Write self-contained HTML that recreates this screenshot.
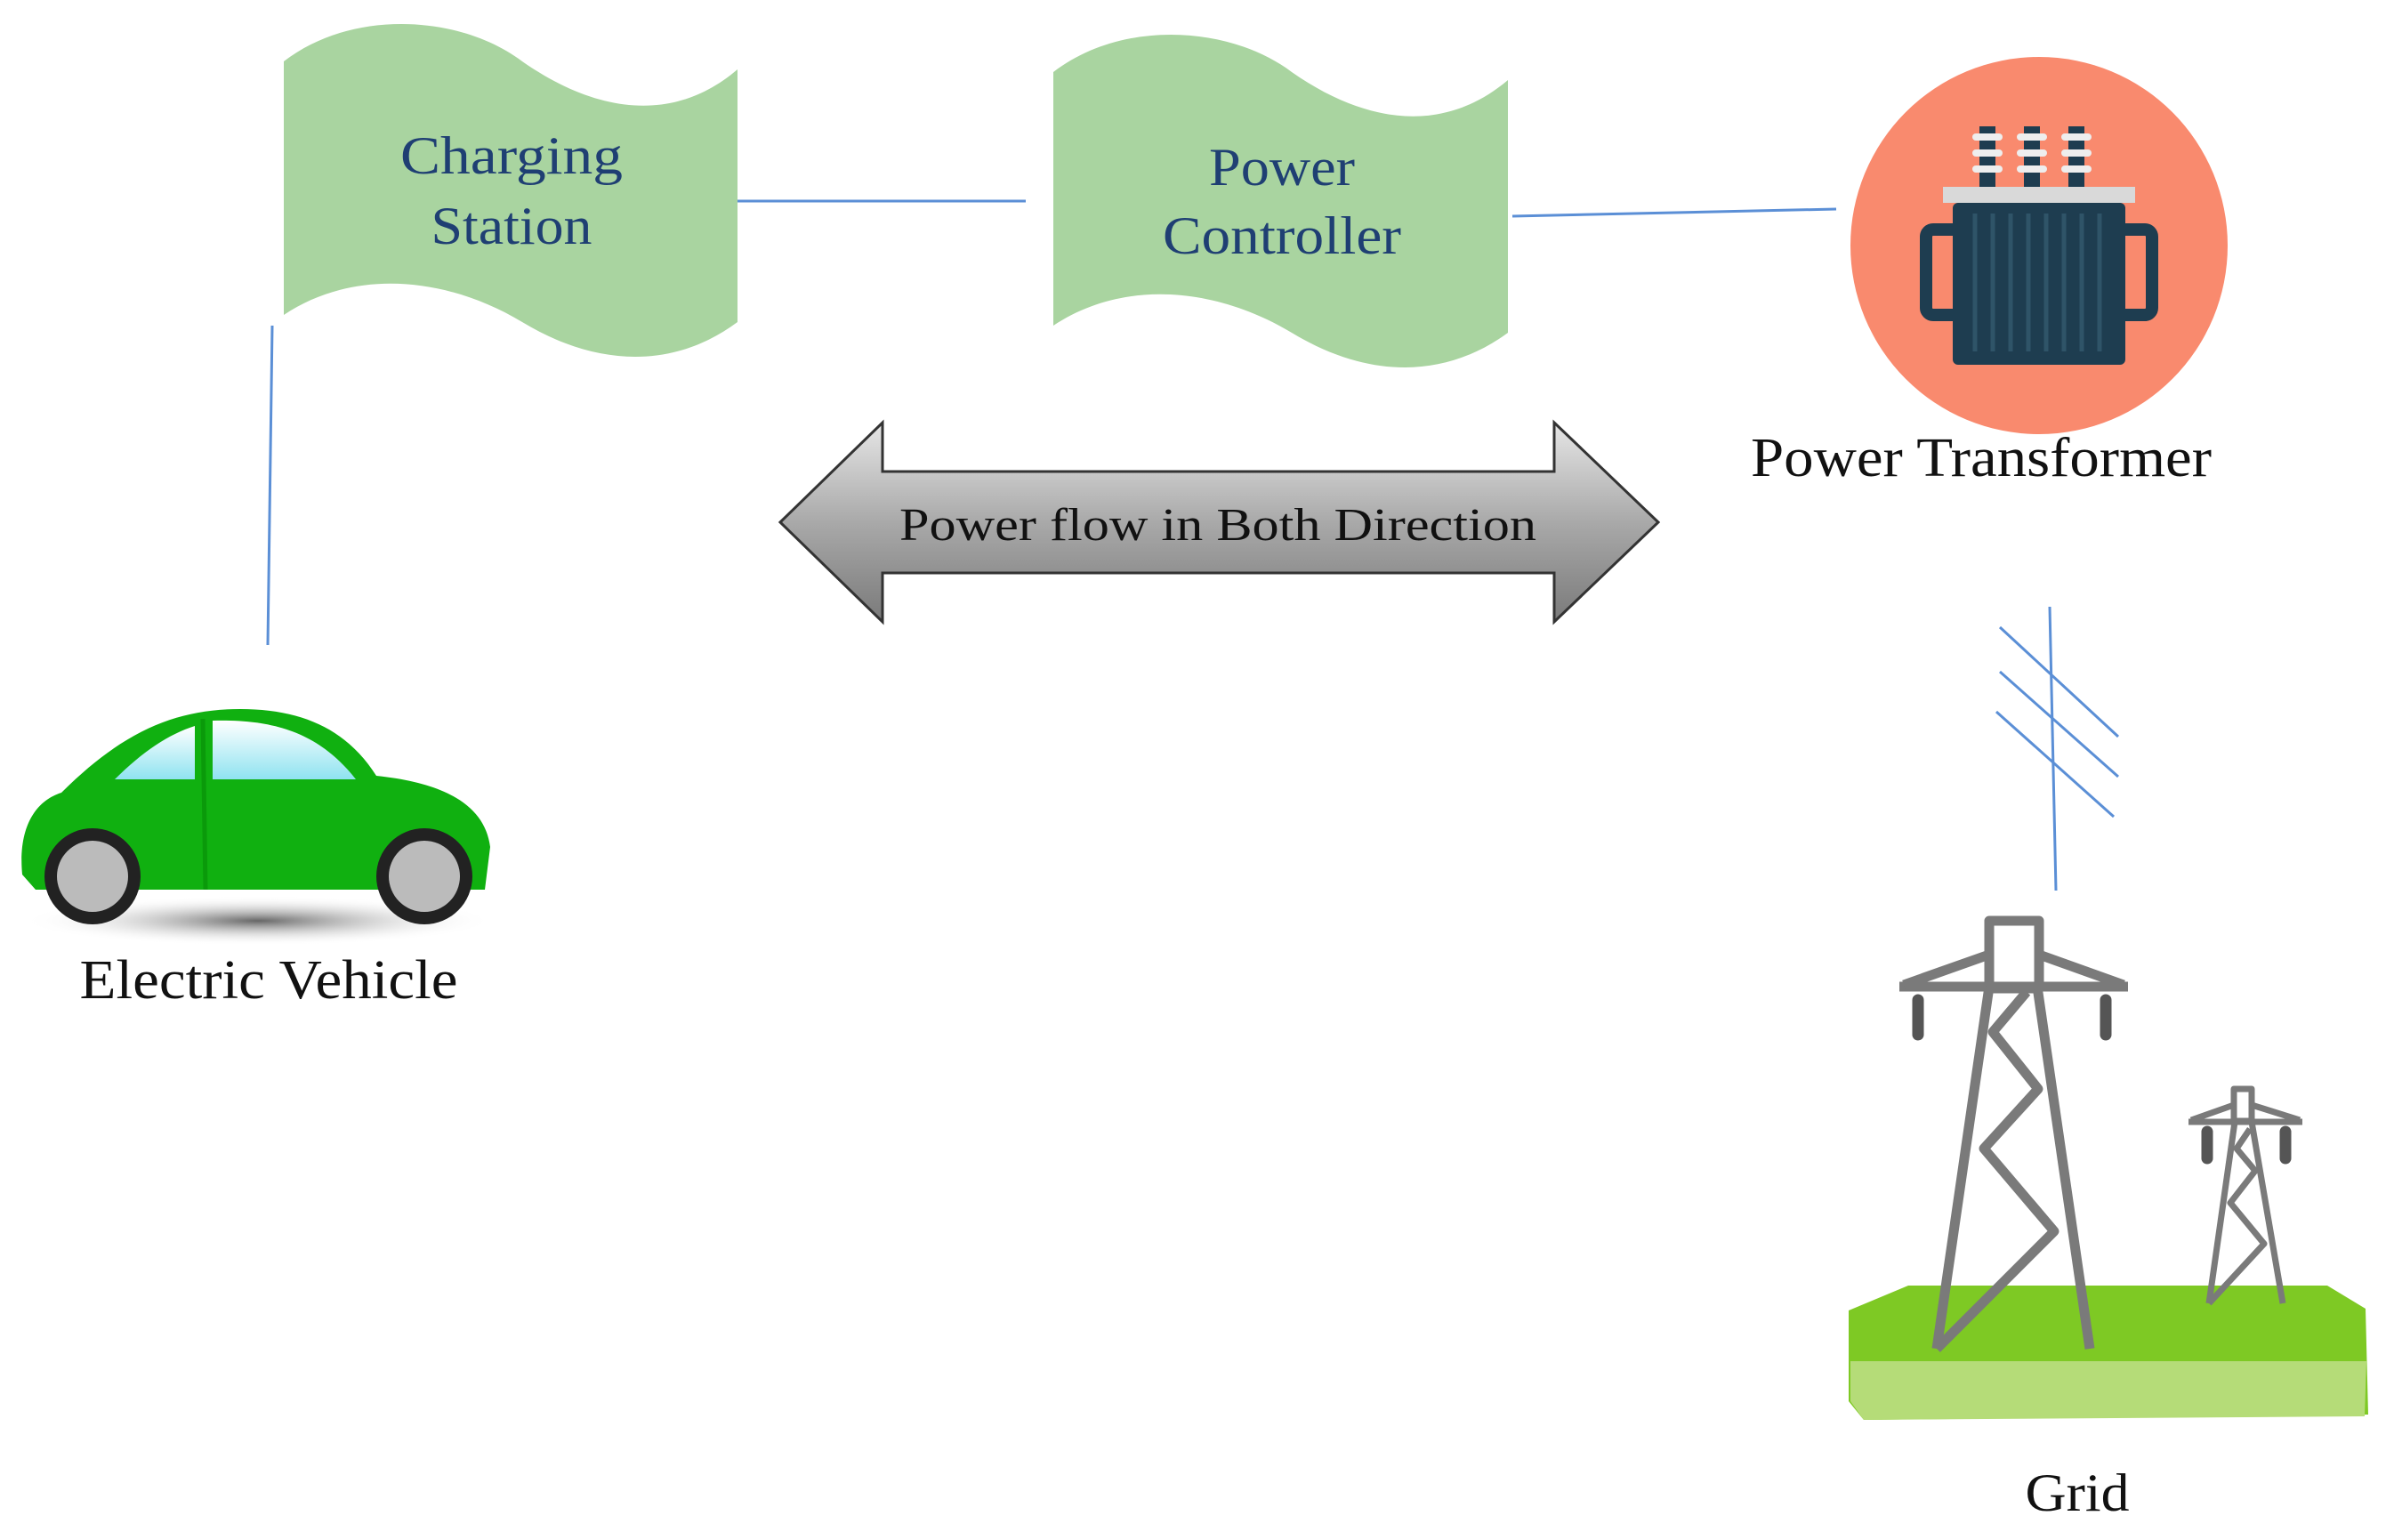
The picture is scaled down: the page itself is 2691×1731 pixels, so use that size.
<!DOCTYPE html>
<html><head><meta charset="utf-8"><style>
html,body{margin:0;padding:0;background:#fff}
svg{display:block}
text{font-family:"Liberation Serif",serif}
</style></head><body>
<svg width="2691" height="1731" viewBox="0 0 2691 1731" xmlns="http://www.w3.org/2000/svg">
<defs>
<linearGradient id="ag" x1="0" y1="0" x2="0" y2="1">
<stop offset="0" stop-color="#e6e6e6"/><stop offset="0.5" stop-color="#a9a9a9"/><stop offset="1" stop-color="#7a7a7a"/>
</linearGradient>
<linearGradient id="win" x1="0" y1="0" x2="0" y2="1">
<stop offset="0" stop-color="#ffffff"/><stop offset="1" stop-color="#8fe3f0"/>
</linearGradient>
<radialGradient id="sh" cx="0.5" cy="0.5" r="0.5">
<stop offset="0" stop-color="#666"/><stop offset="1" stop-color="#fff" stop-opacity="0"/>
</radialGradient>
</defs>

<!-- connectors -->
<line x1="829" y1="226" x2="1153" y2="226" stroke="#5b8fd6" stroke-width="3"/>
<line x1="1700" y1="243" x2="2064" y2="235" stroke="#5b8fd6" stroke-width="3"/>
<line x1="306" y1="366" x2="301" y2="725" stroke="#5b8fd6" stroke-width="3"/>
<line x1="2304" y1="682" x2="2311" y2="1001" stroke="#5b8fd6" stroke-width="3"/>
<line x1="2248" y1="705" x2="2381" y2="828" stroke="#5b8fd6" stroke-width="3"/>
<line x1="2248" y1="755" x2="2381" y2="873" stroke="#5b8fd6" stroke-width="3"/>
<line x1="2244" y1="800" x2="2376" y2="918" stroke="#5b8fd6" stroke-width="3"/>

<!-- flags -->
<path d="M319,69 C397,9 518,17 587,69 C673,129 759,138 829,78 L829,362 C759,414 673,414 587,362 C500,310 397,302 319,354 Z" fill="#a9d4a0"/>
<text x="575" y="195" font-size="60" fill="#1f3f73" text-anchor="middle" textLength="250" lengthAdjust="spacingAndGlyphs">Charging</text>
<text x="575" y="274" font-size="60" fill="#1f3f73" text-anchor="middle" textLength="181" lengthAdjust="spacingAndGlyphs">Station</text>
<path d="M1184,81 C1262,21 1383,29 1452,81 C1538,141 1624,150 1695,90 L1695,374 C1624,426 1538,426 1452,374 C1365,322 1262,314 1184,366 Z" fill="#a9d4a0"/>
<text x="1441" y="208" font-size="60" fill="#1f3f73" text-anchor="middle" textLength="164" lengthAdjust="spacingAndGlyphs">Power</text>
<text x="1441" y="285" font-size="60" fill="#1f3f73" text-anchor="middle" textLength="268" lengthAdjust="spacingAndGlyphs">Controller</text>

<!-- double arrow -->
<path d="M877,587 L992,475 L992,530 L1747,530 L1747,475 L1864,587 L1747,699 L1747,644 L992,644 L992,699 Z" fill="url(#ag)" stroke="#333" stroke-width="3"/>
<text x="1369" y="607" font-size="52" fill="#111" text-anchor="middle" textLength="716" lengthAdjust="spacingAndGlyphs">Power flow in Both Direction</text>

<!-- transformer -->
<circle cx="2292" cy="276" r="212" fill="#f98a6e"/>
<rect x="2184" y="210" width="216" height="18" fill="#d9d9d9"/>
<rect x="2195" y="228" width="194" height="182" rx="6" fill="#1e3d50"/>
<g stroke="#2f5468" stroke-width="5">
<line x1="2220" y1="240" x2="2220" y2="395"/><line x1="2240" y1="240" x2="2240" y2="395"/><line x1="2260" y1="240" x2="2260" y2="395"/><line x1="2280" y1="240" x2="2280" y2="395"/><line x1="2300" y1="240" x2="2300" y2="395"/><line x1="2320" y1="240" x2="2320" y2="395"/><line x1="2340" y1="240" x2="2340" y2="395"/><line x1="2360" y1="240" x2="2360" y2="395"/>
</g>
<path d="M2195,258 h-22 a8,8 0 0 0 -8,8 v80 a8,8 0 0 0 8,8 h22" fill="none" stroke="#1e3d50" stroke-width="14"/>
<path d="M2389,258 h22 a8,8 0 0 1 8,8 v80 a8,8 0 0 1 -8,8 h-22" fill="none" stroke="#1e3d50" stroke-width="14"/>
<g>
<rect x="2225" y="142" width="18" height="68" fill="#1e3d50"/><rect x="2275" y="142" width="18" height="68" fill="#1e3d50"/><rect x="2325" y="142" width="18" height="68" fill="#1e3d50"/>
<g fill="#eee">
<rect x="2217" y="150" width="34" height="8" rx="4"/><rect x="2217" y="168" width="34" height="8" rx="4"/><rect x="2217" y="186" width="34" height="8" rx="4"/>
<rect x="2267" y="150" width="34" height="8" rx="4"/><rect x="2267" y="168" width="34" height="8" rx="4"/><rect x="2267" y="186" width="34" height="8" rx="4"/>
<rect x="2317" y="150" width="34" height="8" rx="4"/><rect x="2317" y="168" width="34" height="8" rx="4"/><rect x="2317" y="186" width="34" height="8" rx="4"/>
</g></g>
<text x="2227" y="535" font-size="62" fill="#111" text-anchor="middle" textLength="518" lengthAdjust="spacingAndGlyphs">Power Transformer</text>

<!-- car -->
<ellipse cx="290" cy="1035" rx="265" ry="28" fill="url(#sh)"/>
<path d="M25,983 C20,930 40,900 69,891 C140,820 200,797 270,797 C340,797 390,820 423,872 C500,880 545,905 551,952 L545,1000 L40,1000 Z" fill="#10b010"/>
<path d="M129,876 C160,845 190,825 219,816 L219,876 Z" fill="url(#win)"/>
<path d="M239,810 C310,808 360,825 400,876 L239,876 Z" fill="url(#win)"/>
<line x1="228" y1="808" x2="231" y2="1000" stroke="#0a9a0a" stroke-width="5"/>
<g>
<circle cx="104" cy="985" r="54" fill="#222"/><circle cx="104" cy="985" r="40" fill="#bbb"/>
<circle cx="477" cy="985" r="54" fill="#222"/><circle cx="477" cy="985" r="40" fill="#bbb"/>
</g>
<text x="302" y="1122" font-size="62" fill="#111" text-anchor="middle" textLength="425" lengthAdjust="spacingAndGlyphs">Electric Vehicle</text>

<!-- grid -->
<path d="M2145,1445 L2616,1445 L2659,1471 L2662,1590 L2095,1596 L2078,1575 L2078,1473 Z" fill="#7ec924"/>
<path d="M2080,1530 L2660,1530 L2658,1592 L2095,1596 L2080,1575 Z" fill="#b5dc78"/>
<g fill="none" stroke="#7a7a7a" stroke-width="11" stroke-linejoin="round">
<rect x="2236" y="1035" width="56" height="76"/>
<line x1="2135" y1="1109" x2="2392" y2="1109"/>
<line x1="2140" y1="1107" x2="2236" y2="1073"/><line x1="2387" y1="1107" x2="2292" y2="1073"/>
<line x1="2236" y1="1109" x2="2177" y2="1516"/><line x1="2290" y1="1109" x2="2349" y2="1516"/>
<polyline points="2278,1115 2240,1160 2291,1224 2230,1291 2309,1384 2177,1516"/>
<rect x="2511" y="1224" width="20" height="36" stroke-width="7"/>
<line x1="2460" y1="1261" x2="2588" y2="1261" stroke-width="7"/>
<line x1="2463" y1="1259" x2="2511" y2="1242" stroke-width="7"/><line x1="2585" y1="1259" x2="2531" y2="1242" stroke-width="7"/>
<line x1="2512" y1="1261" x2="2483" y2="1465" stroke-width="7"/><line x1="2531" y1="1261" x2="2566" y2="1465" stroke-width="7"/>
<polyline points="2529,1269 2514,1291 2535,1316 2507,1352 2545,1398 2483,1465" stroke-width="7"/>
</g>
<g stroke="#555" stroke-width="13" stroke-linecap="round">
<line x1="2156" y1="1124" x2="2156" y2="1163"/><line x1="2367" y1="1124" x2="2367" y2="1163"/>
<line x1="2481" y1="1272" x2="2481" y2="1302"/><line x1="2569" y1="1272" x2="2569" y2="1302"/>
</g>
<text x="2335" y="1698" font-size="60" fill="#111" text-anchor="middle" textLength="117" lengthAdjust="spacingAndGlyphs">Grid</text>
</svg>
</body></html>
